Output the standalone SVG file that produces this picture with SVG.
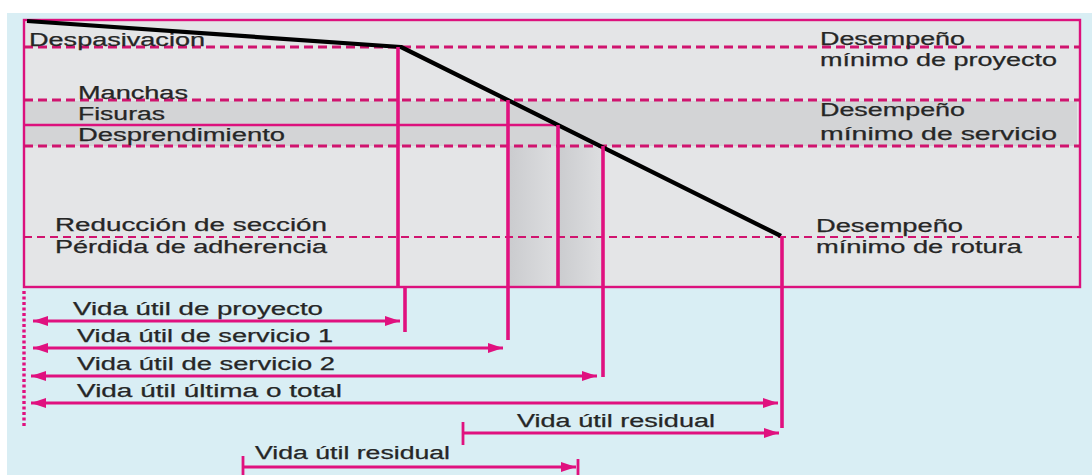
<svg xmlns="http://www.w3.org/2000/svg" width="1092" height="475" viewBox="0 0 1092 475">
  <style>
    .lbl { font-family: "Liberation Sans", Arial, sans-serif; font-size: 18px; fill: #262626; stroke: #262626; stroke-width: 0.25; }
    .dash { stroke: #d0146f; stroke-width: 3; stroke-dasharray: 9 5; fill: none; }
    .dash-thin { stroke: #d0146f; stroke-width: 2; stroke-dasharray: 8 5; fill: none; }
    .mg { stroke: #dc117d; fill: none; }
    .vert { stroke: #e0117f; stroke-width: 3.6; fill: none; }
    .arr { stroke: #e0117f; stroke-width: 2.8; fill: none; }
  </style>
  <defs>
    <marker id="ah" viewBox="0 0 15 10" refX="15" refY="5" markerWidth="15" markerHeight="10" orient="auto-start-reverse" markerUnits="userSpaceOnUse">
      <path d="M0,0 L15,5 L0,10 z" fill="#e0117f"/>
    </marker>
    <linearGradient id="shade" x1="0" y1="0" x2="1" y2="0">
      <stop offset="0" stop-color="#cbcccf"/>
      <stop offset="1" stop-color="#dddee0"/>
    </linearGradient>
  </defs>

  <!-- page background -->
  <rect x="0" y="0" width="1092" height="475" fill="#ffffff"/>
  <rect x="7" y="13" width="1085" height="462" fill="#d9eef4"/>

  <!-- performance chart area -->
  <g id="chart-area">
    <rect x="24" y="20" width="1056" height="267" fill="#e4e5e7"/>
    <rect x="24" y="101" width="1053" height="45" fill="#d3d4d6"/>
    <rect x="510" y="146" width="47" height="141" fill="url(#shade)"/>
    <rect x="559" y="146" width="43" height="141" fill="url(#shade)"/>
    <rect x="24" y="20" width="1056" height="267" class="mg" stroke-width="2.4"/>
  </g>

  <!-- minimum performance thresholds -->
  <g id="thresholds">
    <line x1="24" y1="47" x2="1080" y2="47" class="dash"/>
    <line x1="24" y1="100" x2="1080" y2="100" class="dash"/>
    <line x1="24" y1="125" x2="557" y2="125" class="mg" stroke-width="2.4"/>
    <line x1="24" y1="146" x2="1080" y2="146" class="dash"/>
    <line x1="24" y1="237" x2="1080" y2="237" class="dash-thin"/>
  </g>

  <!-- performance curve -->
  <g id="curve">
    <polyline points="27,21 401,47 781,236" fill="none" stroke="#000" stroke-width="4.2" stroke-linejoin="round"/>
  </g>

  <!-- time markers -->
  <g id="markers">
    <line x1="398" y1="47" x2="398" y2="287" class="vert"/>
    <line x1="405" y1="287" x2="405" y2="332" class="vert"/>
    <line x1="508" y1="100" x2="508" y2="340" class="vert"/>
    <line x1="558" y1="125" x2="558" y2="286" class="vert"/>
    <line x1="603" y1="146" x2="603" y2="377" class="vert"/>
    <line x1="782" y1="236" x2="782" y2="428" class="vert"/>
    <line x1="24" y1="291" x2="24" y2="428" stroke="#e0117f" stroke-width="3.4" stroke-dasharray="3 2.5"/>
  </g>

  <!-- service life spans -->
  <g id="connectors">
    <line x1="33" y1="321" x2="400" y2="321" class="arr" marker-start="url(#ah)" marker-end="url(#ah)"/>
    <line x1="33" y1="348" x2="503" y2="348" class="arr" marker-start="url(#ah)" marker-end="url(#ah)"/>
    <line x1="31" y1="376" x2="597" y2="376" class="arr" marker-start="url(#ah)" marker-end="url(#ah)"/>
    <line x1="31" y1="403" x2="778" y2="403" class="arr" marker-start="url(#ah)" marker-end="url(#ah)"/>
    <line x1="463" y1="433" x2="779" y2="433" class="arr" marker-end="url(#ah)"/>
    <line x1="463" y1="422" x2="463" y2="445" class="arr" stroke-width="3.4"/>
    <line x1="243" y1="467" x2="576" y2="467" class="arr" marker-end="url(#ah)"/>
    <line x1="243" y1="456" x2="243" y2="475" class="arr" stroke-width="3.4"/>
    <line x1="578" y1="459" x2="578" y2="475" class="arr" stroke-width="3.4"/>
  </g>

  <!-- damage stages -->
  <g id="stage-labels">
    <text class="lbl" x="29" y="46" textLength="176" lengthAdjust="spacingAndGlyphs">Despasivacion</text>
    <text class="lbl" x="78" y="99" textLength="110" lengthAdjust="spacingAndGlyphs">Manchas</text>
    <text class="lbl" x="78" y="120" textLength="87" lengthAdjust="spacingAndGlyphs">Fisuras</text>
    <text class="lbl" x="78" y="141" textLength="207" lengthAdjust="spacingAndGlyphs">Desprendimiento</text>
    <text class="lbl" x="55" y="231" textLength="272" lengthAdjust="spacingAndGlyphs">Reducción de sección</text>
    <text class="lbl" x="55" y="253" textLength="272" lengthAdjust="spacingAndGlyphs">Pérdida de adherencia</text>
  </g>

  <!-- threshold labels -->
  <g id="threshold-labels">
    <text class="lbl" x="820" y="45" textLength="145" lengthAdjust="spacingAndGlyphs">Desempeño</text>
    <text class="lbl" x="820" y="66" textLength="237" lengthAdjust="spacingAndGlyphs">mínimo de proyecto</text>
    <text class="lbl" x="820" y="116" textLength="145" lengthAdjust="spacingAndGlyphs">Desempeño</text>
    <text class="lbl" x="820" y="140" textLength="237" lengthAdjust="spacingAndGlyphs">mínimo de servicio</text>
    <text class="lbl" x="816" y="232" textLength="147" lengthAdjust="spacingAndGlyphs">Desempeño</text>
    <text class="lbl" x="816" y="253" textLength="206" lengthAdjust="spacingAndGlyphs">mínimo de rotura</text>
  </g>

  <!-- span labels -->
  <g id="span-labels">
    <text class="lbl" x="73" y="315" textLength="250" lengthAdjust="spacingAndGlyphs">Vida útil de proyecto</text>
    <text class="lbl" x="77" y="342" textLength="256" lengthAdjust="spacingAndGlyphs">Vida útil de servicio 1</text>
    <text class="lbl" x="77" y="370" textLength="258" lengthAdjust="spacingAndGlyphs">Vida útil de servicio 2</text>
    <text class="lbl" x="77" y="397" textLength="265" lengthAdjust="spacingAndGlyphs">Vida útil última o total</text>
    <text class="lbl" x="517" y="427" textLength="198" lengthAdjust="spacingAndGlyphs">Vida útil residual</text>
    <text class="lbl" x="255" y="459" textLength="195" lengthAdjust="spacingAndGlyphs">Vida útil residual</text>
  </g>
</svg>
